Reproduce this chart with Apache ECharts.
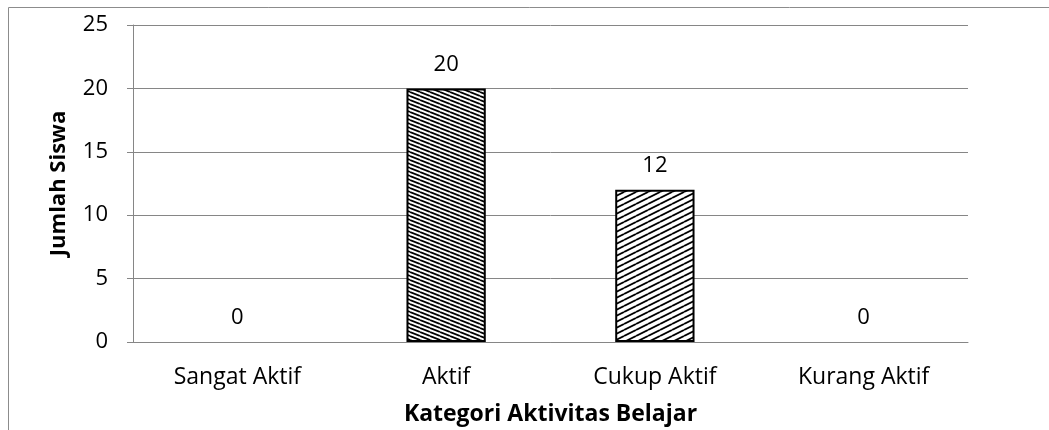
<!DOCTYPE html>
<html>
<head>
<meta charset="utf-8">
<script src="https://cdn.jsdelivr.net/npm/echarts@6/dist/echarts.min.js"></script>
<style>
  html, body { margin: 0; padding: 0; background: #fff; }
  #chart { width: 1049px; height: 430px; }
</style>
</head>
<body>
<div id="chart"></div>
<script>
const categories = ['Sangat Aktif', 'Aktif', 'Cukup Aktif', 'Kurang Aktif'];
const jumlahSiswa = [0, 20, 12, 0];
const yTicks = [0, 5, 10, 15, 20, 25];

// diagonal hatching, like the excel pattern fills
function hatch(w, h, lineW, down) {
  const c = document.createElement('canvas');
  c.width = w; c.height = h;
  const ctx = c.getContext('2d');
  ctx.fillStyle = '#fff';
  ctx.fillRect(0, 0, w, h);
  ctx.strokeStyle = '#000';
  ctx.lineWidth = lineW;
  for (let k = -2; k <= 2; k++) {
    ctx.beginPath();
    if (down) {
      ctx.moveTo(0, k * h);
      ctx.lineTo(w, k * h + h);
    } else {
      ctx.moveTo(0, k * h + h);
      ctx.lineTo(w, k * h);
    }
    ctx.stroke();
  }
  return c;
}

const patterns = [
  hatch(10, 4, 1.8, true),
  hatch(10, 4, 1.8, true),
  hatch(12, 6, 1.8, false),
  hatch(12, 6, 1.8, false)
];

const chart = echarts.init(document.getElementById('chart'));
const font = '"Open Sans", "Liberation Sans", sans-serif';

const option = {
  animation: false,
  textStyle: { fontFamily: font },
  graphic: [{
    type: 'rect',
    shape: { x: 8.5, y: 7.5, width: 1100, height: 500 },
    style: { fill: 'none', stroke: '#8c8c8c', lineWidth: 1 }
  }],
  grid: { left: 133, right: 81, top: 25, bottom: 88, outerBoundsMode: 'none', containLabel: false },
  xAxis: {
    type: 'category',
    data: categories,
    name: 'Kategori Aktivitas Belajar',
    nameLocation: 'middle',
    nameGap: 61,
    nameTextStyle: { fontSize: 23, fontWeight: 'bold', color: '#000', fontFamily: font },
    axisLine: { lineStyle: { color: '#868686', width: 1 } },
    axisTick: { length: 6, lineStyle: { color: '#868686' } },
    axisLabel: { fontSize: 23, color: '#000', margin: 24, fontFamily: font }
  },
  yAxis: {
    type: 'value',
    min: yTicks[0],
    max: yTicks[yTicks.length - 1],
    interval: 5,
    name: 'Jumlah Siswa',
    nameLocation: 'middle',
    nameRotate: 90,
    nameGap: 63,
    nameTextStyle: { fontSize: 22, fontWeight: 'bold', color: '#000', fontFamily: font },
    axisLine: { show: true, lineStyle: { color: '#868686', width: 1 } },
    axisTick: { show: true, length: 6, lineStyle: { color: '#868686' } },
    axisLabel: { fontSize: 22, color: '#000', margin: 25, fontFamily: font },
    splitLine: { lineStyle: { color: '#868686', width: 1 } }
  },
  series: [{
    type: 'bar',
    barWidth: '38%',
    data: jumlahSiswa.map((v, i) => ({
      value: v,
      itemStyle: {
        color: { image: patterns[i], repeat: 'repeat' },
        borderColor: '#000',
        borderWidth: v === 0 ? 0 : 2
      }
    })),
    label: {
      show: true,
      position: 'top',
      distance: 13,
      fontSize: 22,
      color: '#000',
      fontFamily: font
    }
  }]
};
chart.setOption(option);
</script>
</body>
</html>
